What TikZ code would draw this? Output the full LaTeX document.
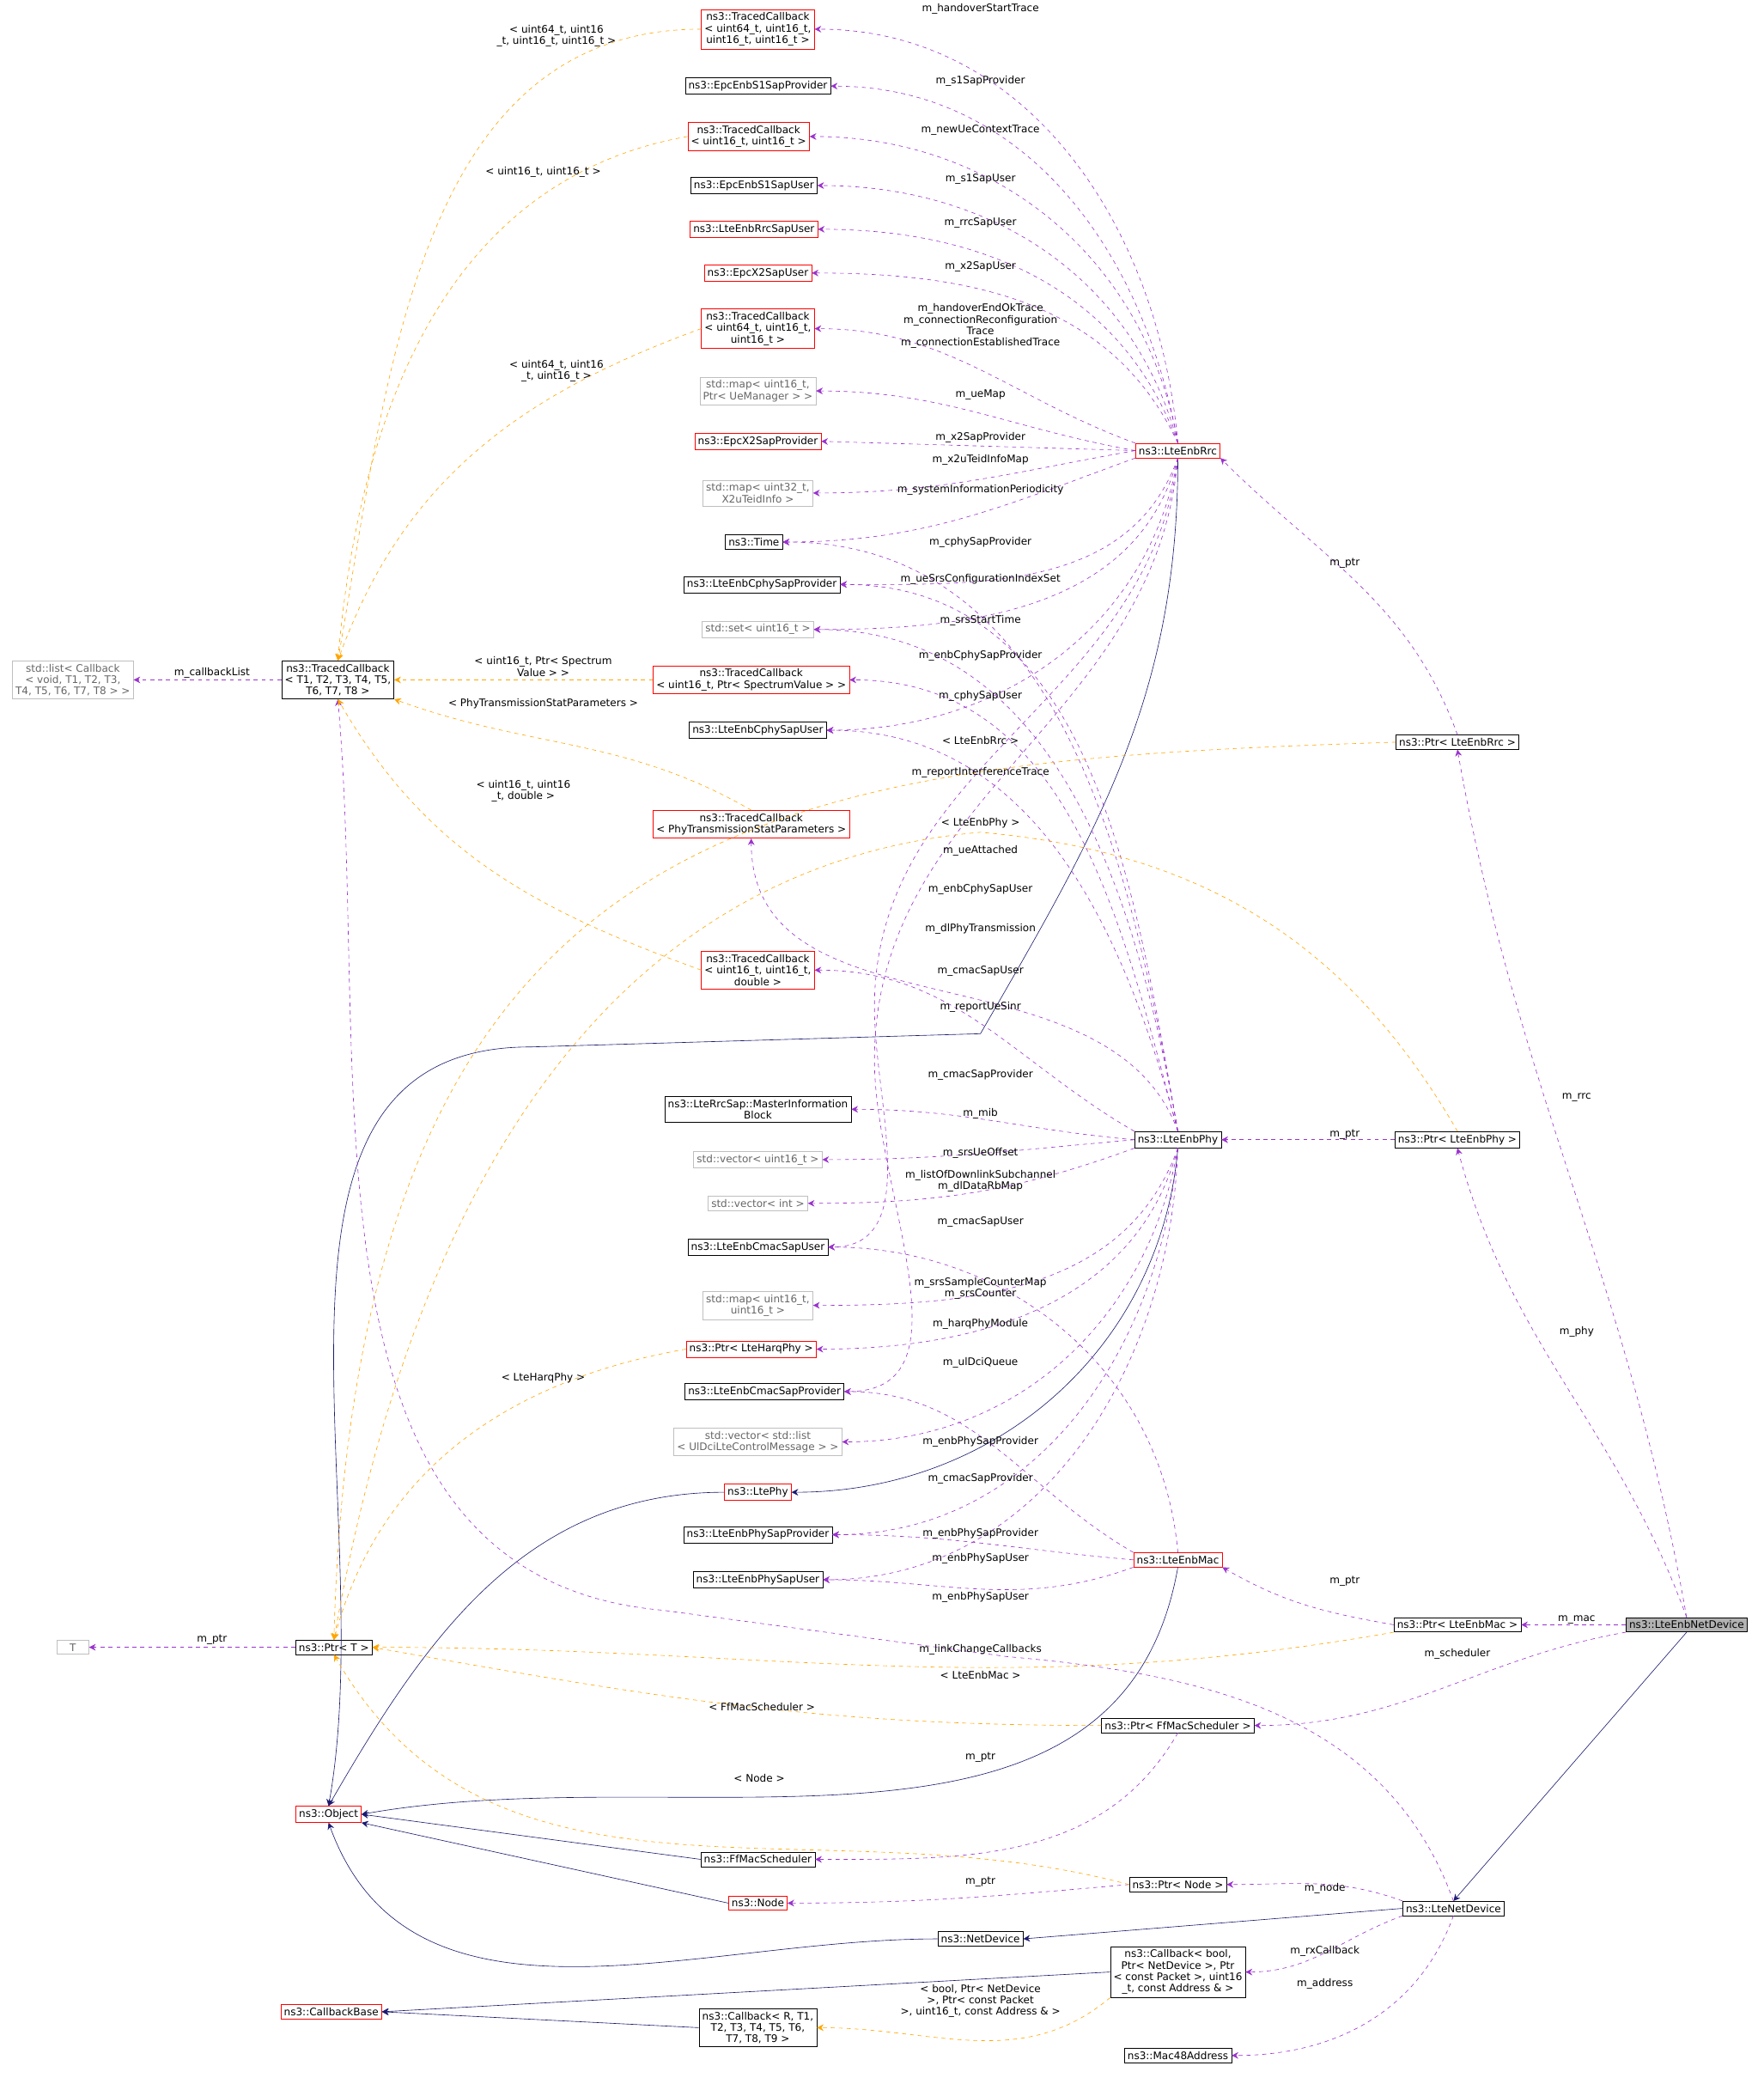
\documentclass[tikz,border=0pt]{standalone}
\usepackage{fontspec}
\setmainfont{DejaVu Sans}
\usetikzlibrary{arrows.meta}
\definecolor{usecol}{HTML}{9A32CD}
\definecolor{tplcol}{HTML}{FFA500}
\definecolor{inhcol}{HTML}{191970}
\tikzset{
  box/.style={draw, inner sep=2.4pt, align=center, fill=white, font=\fontsize{7.8}{8.6}\selectfont},
  redbox/.style={box, draw=red},
  graybox/.style={box, draw=gray!50, text=gray!80!black},
  lbl/.style={align=center, font=\fontsize{7.8}{8.6}\selectfont, inner sep=0pt},
  use/.style={draw=usecol, dashed, -{Stealth[length=5pt,width=5pt]}},
  tpl/.style={draw=tplcol, dashed, -{Stealth[length=5pt,width=5pt]}},
  inh/.style={draw=inhcol, -{Stealth[length=5pt,width=5pt]}}
}
\begin{document}
\begin{tikzpicture}[x=1pt,y=-1pt]
\useasboundingbox (0,0) rectangle (1331,1568);
% left column
\node[graybox] (list) at (55,513) {std::list< Callback\\< void, T1, T2, T3,\\ T4, T5, T6, T7, T8 > >};
\node[box] (tcall) at (255,513) {ns3::TracedCallback\\< T1, T2, T3, T4, T5,\\ T6, T7, T8 >};
\node[graybox, minimum width=24pt] (tt) at (55,1243) {T};
\node[box] (ptrt) at (252,1243) {ns3::Ptr< T >};
\node[redbox] (object) at (248,1369) {ns3::Object};
\node[redbox] (cbbase) at (250,1518) {ns3::CallbackBase};
% middle column
\node[redbox] (tcA) at (572,22) {ns3::TracedCallback\\< uint64\_t, uint16\_t,\\ uint16\_t, uint16\_t >};
\node[box] (sprov) at (572,65) {ns3::EpcEnbS1SapProvider};
\node[redbox] (tcB) at (565,103) {ns3::TracedCallback\\< uint16\_t, uint16\_t >};
\node[box] (suser) at (569,140) {ns3::EpcEnbS1SapUser};
\node[redbox] (rrcuser) at (569,173) {ns3::LteEnbRrcSapUser};
\node[redbox] (xuser) at (572,206) {ns3::EpcX2SapUser};
\node[redbox] (tcC) at (572,248) {ns3::TracedCallback\\< uint64\_t, uint16\_t,\\ uint16\_t >};
\node[graybox] (mapA) at (572,295) {std::map< uint16\_t,\\ Ptr< UeManager > >};
\node[redbox] (xprov) at (572,333) {ns3::EpcX2SapProvider};
\node[graybox] (mapB) at (572,372) {std::map< uint32\_t,\\ X2uTeidInfo >};
\node[box] (time) at (569,409) {ns3::Time};
\node[box] (cphyprov) at (575,441) {ns3::LteEnbCphySapProvider};
\node[graybox] (set) at (572,475) {std::set< uint16\_t >};
\node[redbox] (tcD) at (567,513) {ns3::TracedCallback\\< uint16\_t, Ptr< SpectrumValue > >};
\node[box] (cphyuser) at (572,551) {ns3::LteEnbCphySapUser};
\node[redbox] (tcE) at (567,622) {ns3::TracedCallback\\< PhyTransmissionStatParameters >};
\node[redbox] (tcF) at (572,732) {ns3::TracedCallback\\< uint16\_t, uint16\_t,\\ double >};
\node[box] (mib) at (572,837) {ns3::LteRrcSap::MasterInformation\\Block};
\node[graybox] (vecA) at (572,875) {std::vector< uint16\_t >};
\node[graybox] (vecB) at (572,908) {std::vector< int >};
\node[box] (cmacuser) at (572,941) {ns3::LteEnbCmacSapUser};
\node[graybox] (mapC) at (572,985) {std::map< uint16\_t,\\ uint16\_t >};
\node[redbox] (harq) at (567,1018) {ns3::Ptr< LteHarqPhy >};
\node[box] (cmacprov) at (577,1050) {ns3::LteEnbCmacSapProvider};
\node[graybox] (vecC) at (572,1088) {std::vector< std::list\\< UlDciLteControlMessage > >};
\node[redbox] (ltephy) at (572,1126) {ns3::LtePhy};
\node[box] (physprov) at (572,1158) {ns3::LteEnbPhySapProvider};
\node[box] (physuser) at (572,1192) {ns3::LteEnbPhySapUser};
\node[box] (ffmac) at (572,1403) {ns3::FfMacScheduler};
\node[redbox] (node) at (572,1436) {ns3::Node};
\node[box] (netdev) at (740,1463) {ns3::NetDevice};
\node[box] (cbA) at (889,1488) {ns3::Callback< bool,\\ Ptr< NetDevice >, Ptr\\< const Packet >, uint16\\\_t, const Address \& >};
\node[box] (cbB) at (572,1530) {ns3::Callback< R, T1,\\ T2, T3, T4, T5, T6,\\ T7, T8, T9 >};
\node[box] (mac48) at (889,1551) {ns3::Mac48Address};
% right side
\node[redbox] (rrc) at (889,340) {ns3::LteEnbRrc};
\node[box] (phy) at (889,860) {ns3::LteEnbPhy};
\node[redbox] (mac) at (889,1177) {ns3::LteEnbMac};
\node[box] (ptrrrc) at (1100,560) {ns3::Ptr< LteEnbRrc >};
\node[box] (ptrphy) at (1100,860) {ns3::Ptr< LteEnbPhy >};
\node[box] (ptrmac) at (1100,1226) {ns3::Ptr< LteEnbMac >};
\node[box] (ptrff) at (889,1302) {ns3::Ptr< FfMacScheduler >};
\node[box] (ptrnode) at (889,1422) {ns3::Ptr< Node >};
\node[box] (ltenet) at (1097,1440) {ns3::LteNetDevice};
\node[box, fill=gray!60] (enbnet) at (1273,1226) {ns3::LteEnbNetDevice};
% inheritance
\draw[inh] (rrc.south) to[out=-90,in=60] (740,780) -- (400,790) to[out=180,in=80] (object.north);
\draw[inh] (phy.south) to[out=-95,in=0] (ltephy.east);
\draw[inh] (ltephy.west) to[out=180,in=60] (object.north);
\draw[inh] (mac.south) to[out=-100,in=10] (object.east);
\draw[inh] (ffmac.west) -- (object.east);
\draw[inh] (node.west) -- (object.south east);
\draw[inh] (netdev.west) to[out=180,in=-70] (object.south);
\draw[inh] (ltenet.west) -- (netdev.east);
\draw[inh] (enbnet.south) -- (ltenet.north);
\draw[inh] (cbA.west) -- (cbbase.east);
\draw[inh] (cbB.west) -- (cbbase.east);
% members of rrc
\draw[use] (rrc.north) to[out=95,in=0] (tcA.east);
\draw[use] (rrc.north) to[out=100,in=0] (sprov.east);
\draw[use] (rrc.north) to[out=100,in=0] (tcB.east);
\draw[use] (rrc.north) to[out=105,in=0] (suser.east);
\draw[use] (rrc.north) to[out=110,in=0] (rrcuser.east);
\draw[use] (rrc.north) to[out=115,in=0] (xuser.east);
\draw[use] (rrc.north west) to[out=160,in=0] (tcC.east);
\draw[use] (rrc.west) to[out=170,in=0] (mapA.east);
\draw[use] (rrc.west) -- (xprov.east);
\draw[use] (rrc.west) to[out=190,in=0] (mapB.east);
\draw[use] (rrc.south west) to[out=200,in=0] (time.east);
\draw[use] (rrc.south) to[out=-110,in=0] (cphyprov.east);
\draw[use] (rrc.south) to[out=-105,in=0] (set.east);
\draw[use] (rrc.south) to[out=-100,in=0] (cphyuser.east);
\draw[use] (rrc.south) to[out=-95,in=90] (660,800) to[out=-90,in=0] (cmacprov.east);
\draw[use] (rrc.south) to[out=-97,in=90] (660,760) to[out=-90,in=0] (cmacuser.east);
% members of phy
\draw[use] (phy.north) to[out=100,in=0] (time.east);
\draw[use] (phy.north) to[out=100,in=0] (cphyprov.east);
\draw[use] (phy.north) to[out=105,in=0] (tcD.east);
\draw[use] (phy.north) to[out=105,in=0] (cphyuser.east);
\draw[use] (phy.north) to[out=100,in=0] (set.east);
\draw[use] (phy.north) to[out=110,in=-90] (tcE.south);
\draw[use] (phy.north west) to[out=150,in=0] (tcF.east);
\draw[use] (phy.west) to[out=175,in=0] (mib.east);
\draw[use] (phy.west) to[out=185,in=0] (vecA.east);
\draw[use] (phy.south west) to[out=200,in=0] (vecB.east);
\draw[use] (phy.south) to[out=-110,in=0] (mapC.east);
\draw[use] (phy.south) to[out=-105,in=0] (harq.east);
\draw[use] (phy.south) to[out=-100,in=0] (vecC.east);
\draw[use] (phy.south) to[out=-95,in=0] (physprov.east);
\draw[use] (phy.south) to[out=-92,in=0] (physuser.east);
% members of mac
\draw[use] (mac.north) to[out=95,in=0] (cmacuser.east);
\draw[use] (mac.north west) to[out=150,in=0] (cmacprov.east);
\draw[use] (mac.west) to[out=175,in=0] (physprov.east);
\draw[use] (mac.south west) to[out=200,in=0] (physuser.east);
% pointers
\draw[use] (ptrrrc.north) to[out=110,in=-45] (rrc.south east);
\draw[use] (ptrphy.west) -- (phy.east);
\draw[use] (ptrmac.west) to[out=170,in=-30] (mac.south east);
\draw[use] (ptrff.south) to[out=-120,in=0] (ffmac.east);
\draw[use] (ptrnode.west) to[out=185,in=0] (node.east);
\draw[use] (ptrt.west) -- (tt.east);
\draw[use] (tcall.west) -- (list.east);
\draw[use] (enbnet.north) to[out=100,in=-80] (ptrrrc.south);
\draw[use] (enbnet.north) to[out=110,in=-75] (ptrphy.south);
\draw[use] (enbnet.west) -- (ptrmac.east);
\draw[use] (enbnet.south west) to[out=190,in=0] (ptrff.east);
\draw[use] (ltenet.north west) to[out=160,in=0] (ptrnode.east);
\draw[use] (ltenet.south west) to[out=200,in=0] (cbA.east);
\draw[use] (ltenet.south) to[out=-110,in=0] (mac48.east);
\draw[use] (ltenet.north) to[out=110,in=-5] (760,1250) -- (500,1215) to[out=175,in=-85] (tcall.south);
% templates
\draw[tpl] (tcA.west) to[out=180,in=80] (tcall.north);
\draw[tpl] (tcB.west) to[out=190,in=85] (tcall.north);
\draw[tpl] (tcC.west) to[out=200,in=70] (tcall.north);
\draw[tpl] (tcD.west) -- (tcall.east);
\draw[tpl] (tcE.north) to[out=150,in=-20] (tcall.south east);
\draw[tpl] (tcF.west) to[out=160,in=-60] (tcall.south);
\draw[tpl] (ptrrrc.west) .. controls (600,575) and (270,600) .. (ptrt.north);
\draw[tpl] (ptrphy.north) to[out=120,in=-5] (740,628) to[out=185,in=80] (ptrt.north);
\draw[tpl] (harq.west) to[out=190,in=75] (ptrt.north);
\draw[tpl] (ptrmac.south west) to[out=190,in=0] (ptrt.east);
\draw[tpl] (ptrff.west) to[out=180,in=-10] (ptrt.east);
\draw[tpl] (ptrnode.west) to[out=165,in=-60] (ptrt.south);
\draw[tpl] (cbA.south west) to[out=220,in=0] (cbB.east);
% edge labels
\node[lbl] (l1) at (740,7) {m\_handoverStartTrace};
\node[lbl] (l2) at (740,61) {m\_s1SapProvider};
\node[lbl] (l3) at (740,98) {m\_newUeContextTrace};
\node[lbl] (l4) at (740,135) {m\_s1SapUser};
\node[lbl] (l5) at (740,168) {m\_rrcSapUser};
\node[lbl] (l6) at (740,201) {m\_x2SapUser};
\node[lbl] (l7) at (740,246) {m\_handoverEndOkTrace\\m\_connectionReconfiguration\\Trace\\m\_connectionEstablishedTrace};
\node[lbl] (l8) at (740,298) {m\_ueMap};
\node[lbl] (l9) at (740,330) {m\_x2SapProvider};
\node[lbl] (l10) at (740,347) {m\_x2uTeidInfoMap};
\node[lbl] (l11) at (740,370) {m\_systemInformationPeriodicity};
\node[lbl] (l12) at (740,409) {m\_cphySapProvider};
\node[lbl] (l13) at (740,437) {m\_ueSrsConfigurationIndexSet};
\node[lbl] (l14) at (740,468) {m\_srsStartTime};
\node[lbl] (l15) at (740,495) {m\_enbCphySapProvider};
\node[lbl] (l16) at (740,525) {m\_cphySapUser};
\node[lbl] (l17) at (740,583) {m\_reportInterferenceTrace};
\node[lbl] (l18) at (740,642) {m\_ueAttached};
\node[lbl] (l19) at (740,671) {m\_enbCphySapUser};
\node[lbl] (l20) at (740,701) {m\_dlPhyTransmission};
\node[lbl] (l21) at (740,733) {m\_cmacSapUser};
\node[lbl] (l22) at (740,760) {m\_reportUeSinr};
\node[lbl] (l23) at (740,811) {m\_cmacSapProvider};
\node[lbl] (l24) at (740,840) {m\_mib};
\node[lbl] (l25) at (740,870) {m\_srsUeOffset};
\node[lbl] (l26) at (740,891) {m\_listOfDownlinkSubchannel\\m\_dlDataRbMap};
\node[lbl] (l27) at (740,922) {m\_cmacSapUser};
\node[lbl] (l28) at (740,972) {m\_srsSampleCounterMap\\m\_srsCounter};
\node[lbl] (l29) at (740,999) {m\_harqPhyModule};
\node[lbl] (l30) at (740,1028) {m\_ulDciQueue};
\node[lbl] (l31) at (740,1088) {m\_enbPhySapProvider};
\node[lbl] (l32) at (740,1116) {m\_cmacSapProvider};
\node[lbl] (l33) at (740,1157) {m\_enbPhySapProvider};
\node[lbl] (l34) at (740,1176) {m\_enbPhySapUser};
\node[lbl] (l35) at (740,1205) {m\_enbPhySapUser};
\node[lbl] (l36) at (1015,425) {m\_ptr};
\node[lbl] (l37) at (1015,856) {m\_ptr};
\node[lbl] (l38) at (1015,1193) {m\_ptr};
\node[lbl] (l39) at (740,1326) {m\_ptr};
\node[lbl] (l40) at (740,1420) {m\_ptr};
\node[lbl] (l41) at (1190,828) {m\_rrc};
\node[lbl] (l42) at (1190,1005) {m\_phy};
\node[lbl] (l43) at (1190,1222) {m\_mac};
\node[lbl] (l44) at (1100,1248) {m\_scheduler};
\node[lbl] (l45) at (1000,1425) {m\_node};
\node[lbl] (l46) at (1000,1472) {m\_rxCallback};
\node[lbl] (l47) at (1000,1497) {m\_address};
\node[lbl] (l48) at (740,1245) {m\_linkChangeCallbacks};
\node[lbl] (l49) at (160,508) {m\_callbackList};
\node[lbl] (l50) at (160,1237) {m\_ptr};
\node[lbl] (t1) at (420,27) {< uint64\_t, uint16\\\_t, uint16\_t, uint16\_t >};
\node[lbl] (t2) at (410,130) {< uint16\_t, uint16\_t >};
\node[lbl] (t3) at (420,280) {< uint64\_t, uint16\\\_t, uint16\_t >};
\node[lbl] (t4) at (410,503) {< uint16\_t, Ptr< Spectrum\\Value > >};
\node[lbl] (t5) at (410,531) {< PhyTransmissionStatParameters >};
\node[lbl] (t6) at (395,597) {< uint16\_t, uint16\\\_t, double >};
\node[lbl] (t7) at (740,559) {< LteEnbRrc >};
\node[lbl] (t8) at (740,621) {< LteEnbPhy >};
\node[lbl] (t9) at (410,1040) {< LteHarqPhy >};
\node[lbl] (t10) at (740,1264) {< LteEnbMac >};
\node[lbl] (t11) at (575,1288) {< FfMacScheduler >};
\node[lbl] (t12) at (573,1342) {< Node >};
\node[lbl] (t13) at (740,1510) {< bool, Ptr< NetDevice\\>, Ptr< const Packet\\>, uint16\_t, const Address \& >};
\end{tikzpicture}
\end{document}
